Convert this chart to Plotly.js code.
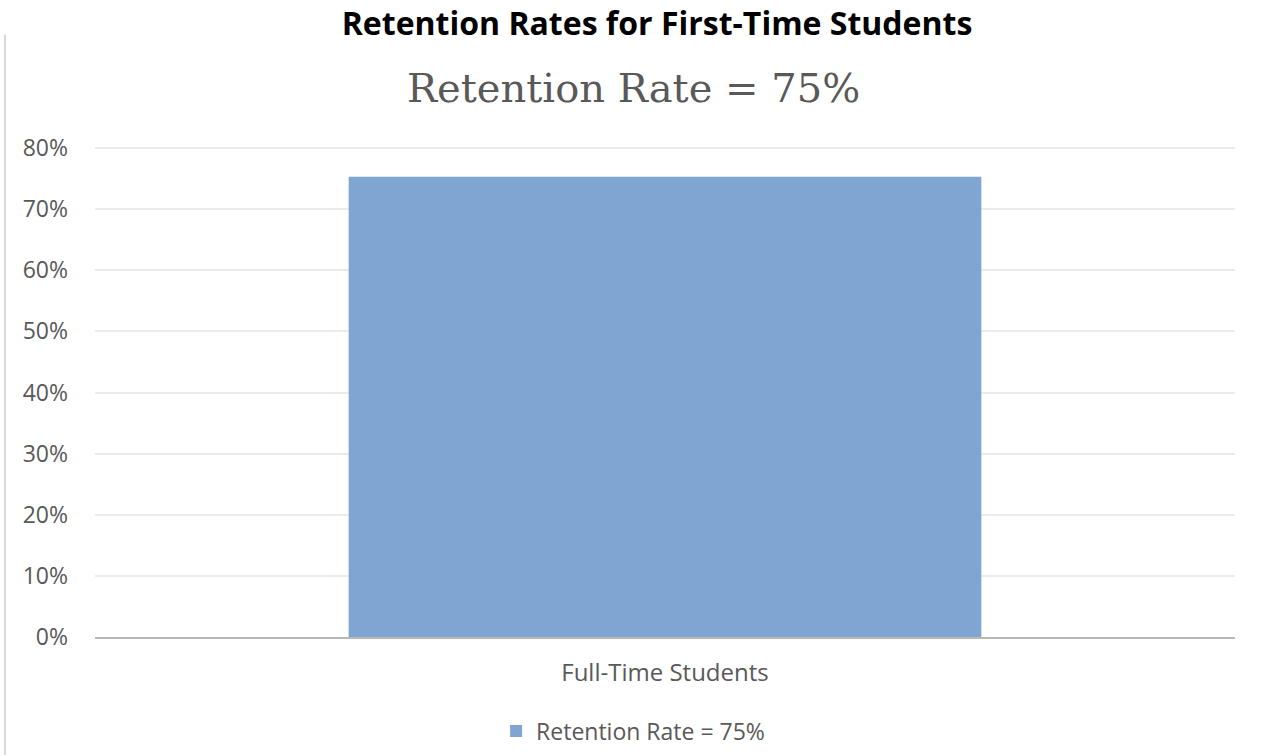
<!DOCTYPE html>
<html>
<head>
<meta charset="utf-8">
<script src="https://cdn.plot.ly/plotly-3.0.1.min.js"></script>
<style>
html,body{margin:0;padding:0;background:#fff;}
#chart{width:1264px;height:755px;}
</style>
</head>
<body>
<div id="chart"></div>
<script>
const categories = ["Full-Time Students"];
const seriesName = "Retention Rate = 75%";
const retention = [0.753];
const yTickVals = [0, 0.1, 0.2, 0.3, 0.4, 0.5, 0.6, 0.7, 0.8];
const yTickText = ["0%", "10%", "20%", "30%", "40%", "50%", "60%", "70%", "80%"];
const mainTitle = "Retention Rates for First-Time Students";
const chartTitle = "Retention Rate = 75%";

const trace = {
  type: "bar",
  x: categories,
  y: retention,
  name: seriesName,
  width: 0.555,
  marker: {color: "#7fa6d2"},
  showlegend: true,
  hoverinfo: "none"
};

const layout = {
  width: 1264,
  height: 755,
  margin: {l: 95, r: 29, t: 146, b: 118},
  paper_bgcolor: "#ffffff",
  plot_bgcolor: "#ffffff",
  font: {family: "Open Sans", color: "#595959", size: 23},
  title: {
    text: "<b>" + mainTitle + "</b>",
    font: {family: "Open Sans", size: 32, color: "#000000"},
    x: 0.493, xref: "paper", xanchor: "center",
    y: 0.969, yref: "container", yanchor: "middle"
  },
  showlegend: true,
  legend: {
    orientation: "h",
    x: 0.472, xanchor: "center", xref: "paper",
    y: (755 - 731) / 755, yanchor: "middle", yref: "container",
    font: {family: "Open Sans", size: 23, color: "#595959"},
    itemwidth: 30
  },
  xaxis: {
    type: "category",
    range: [-0.5, 0.5],
    showgrid: false,
    showline: true,
    linecolor: "#b8b8b8",
    linewidth: 2,
    ticks: "",
    ticklabelstandoff: 13,
    tickfont: {family: "Open Sans", size: 24, color: "#595959"},
    fixedrange: true
  },
  yaxis: {
    range: [0, 0.8033],
    tickvals: yTickVals,
    ticktext: yTickText,
    showgrid: true,
    gridcolor: "#ebebeb",
    gridwidth: 2,
    zeroline: false,
    showline: false,
    ticks: "",
    ticklabelstandoff: 26,
    tickfont: {family: "Open Sans", size: 23, color: "#595959"},
    fixedrange: true
  },
  annotations: [{
    text: chartTitle,
    xref: "paper", yref: "paper",
    x: 0.472, y: (637 - 90) / 489,
    xanchor: "center", yanchor: "middle",
    showarrow: false,
    font: {family: "DejaVu Serif", size: 40, color: "#595959"}
  }],
  shapes: [{
    type: "line",
    xref: "paper", yref: "paper",
    x0: (5 - 95) / 1140, x1: (5 - 95) / 1140,
    y0: (637 - 37) / 489, y1: (637 - 760) / 489,
    line: {color: "#d9d9d9", width: 2}
  }]
};

Plotly.newPlot("chart", [trace], layout, {displayModeBar: false, staticPlot: true});
</script>
</body>
</html>
